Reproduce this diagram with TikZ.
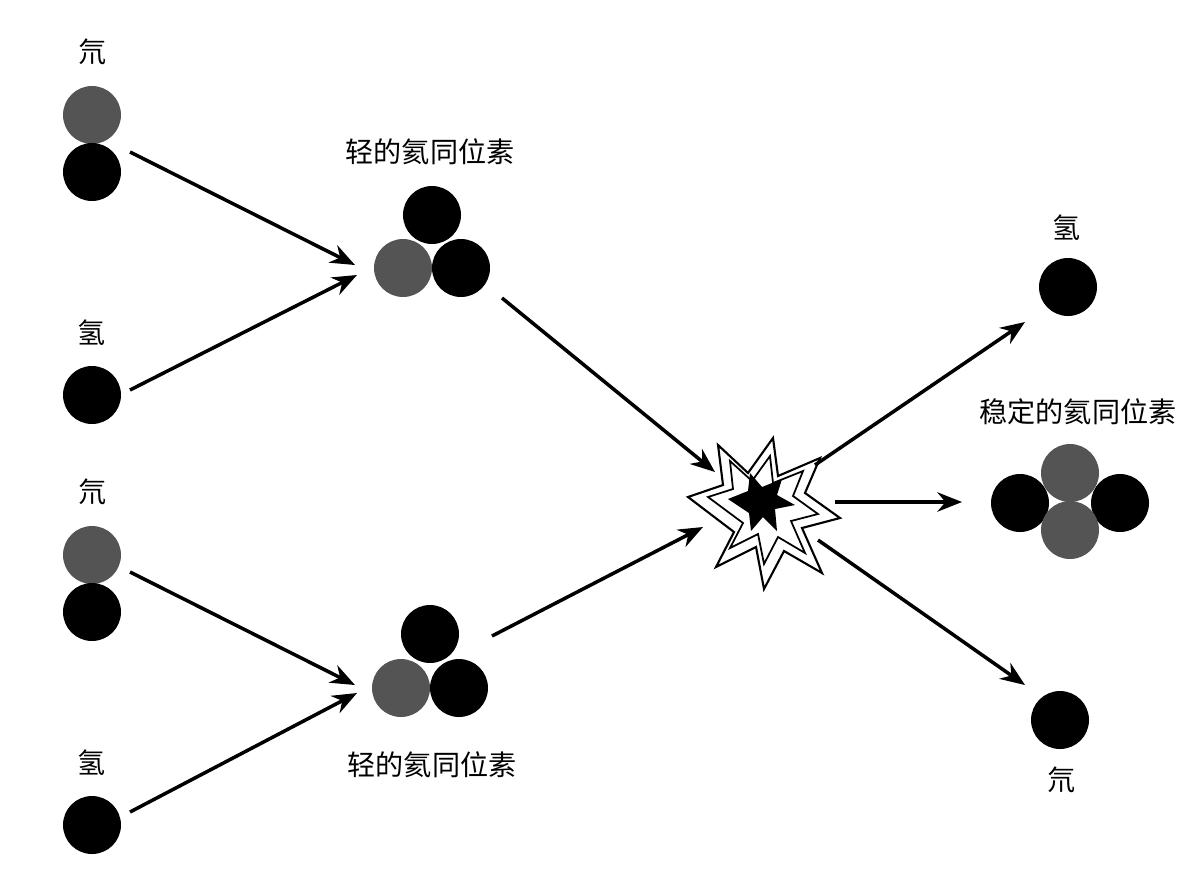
\documentclass[tikz,border=0pt]{standalone}
\usepackage{fontspec}
\newfontfamily\cjk{Noto Sans CJK SC}
\usetikzlibrary{arrows.meta}

\begin{document}
\begin{tikzpicture}[x=0.02cm, y=-0.02cm]
    \tikzstyle{blk}=[circle, fill=black, minimum size=1.16cm, inner sep=0pt]
    \tikzstyle{gry}=[circle, fill=black!67, minimum size=1.16cm, inner sep=0pt]
    \tikzstyle{lbl}=[font=\cjk\fontsize{16}{19}\selectfont, inner sep=0pt]
    \tikzstyle{arr}=[-{Stealth[length=14pt, width=11pt]}, line width=2pt]

    \useasboundingbox (0, 0) rectangle (1202, 873);

    % left side
    \foreach \y/\h/\n in {0/0/1, 440/430/2} {
        \node[lbl] (D\n) at (93, 52+\y) {氘};
        \node[gry] (DG\n) at (92, 115+\y) {};
        \node[blk] (DB\n) at (92, 172+\y) {};
        \node[lbl] (H\n) at (92, 333+\h) {氢};
        \node[blk] (HB\n) at (92, 395+\h) {};
    }

    % light helium
    \node[lbl] (T1) at (430, 152) {轻的氦同位素};
    \node[blk] (A1) at (432, 215) {};
    \node[gry] (B1) at (403, 268) {};
    \node[blk] (C1) at (461, 268) {};
    \node[blk] (A2) at (430, 634) {};
    \node[gry] (B2) at (401, 688) {};
    \node[blk] (C2) at (459, 688) {};
    \node[lbl] (T2) at (432, 765) {轻的氦同位素};

    % explosion
    \coordinate (X) at (760, 497);
    \draw[fill=white, line width=1.2pt] (X)
        ++(-72,0) -- ++(35,-12) -- ++(-5,-40) -- ++(30,28) -- ++(25,-35)
        -- ++(5,38) -- ++(42,-18) -- ++(-15,35) -- ++(35,25) -- ++(-38,10)
        -- ++(20,45) -- ++(-38,-22) -- ++(-20,38) -- ++(-8,-42) -- ++(-40,20)
        -- ++(18,-35) -- cycle;
    \draw[fill=white, line width=1pt] (X)
        ++(-52,0) -- ++(25,-8) -- ++(-3,-28) -- ++(22,20) -- ++(18,-25)
        -- ++(3,27) -- ++(30,-12) -- ++(-10,25) -- ++(25,18) -- ++(-27,7)
        -- ++(14,32) -- ++(-27,-16) -- ++(-14,27) -- ++(-6,-30) -- ++(-28,14)
        -- ++(13,-25) -- cycle;
    \fill (X) ++(-32,2) -- ++(20,-8) -- ++(2,-18) -- ++(12,14) -- ++(20,-8)
        -- ++(-5,16) -- ++(18,10) -- ++(-20,4) -- ++(2,22) -- ++(-14,-14)
        -- ++(-12,14) -- ++(-2,-18) -- cycle;

    % right side
    \node[lbl] (H3) at (1067, 228) {氢};
    \node[blk] (HB3) at (1068, 287) {};
    \node[lbl] (T3) at (1078, 412) {稳定的氦同位素};
    \node[blk] (E1) at (1020, 503) {};
    \node[blk] (E2) at (1120, 503) {};
    \node[gry] (E3) at (1070, 473) {};
    \node[gry] (E4) at (1070, 530) {};
    \node[blk] (DB3) at (1060, 720) {};
    \node[lbl] (D3) at (1062, 780) {氘};

    % arrows
    \draw[arr] (130, 152) -- (355, 265);
    \draw[arr] (130, 390) -- (357, 275);
    \draw[arr] (130, 572) -- (355, 685);
    \draw[arr] (130, 812) -- (357, 693);
    \draw[arr] (502, 298) -- (715, 472);
    \draw[arr] (492, 636) -- (703, 527);
    \draw[arr] (815, 465) -- (1025, 322);
    \draw[arr] (835, 502) -- (962, 502);
    \draw[arr] (818, 540) -- (1025, 685);
\end{tikzpicture}
\end{document}
